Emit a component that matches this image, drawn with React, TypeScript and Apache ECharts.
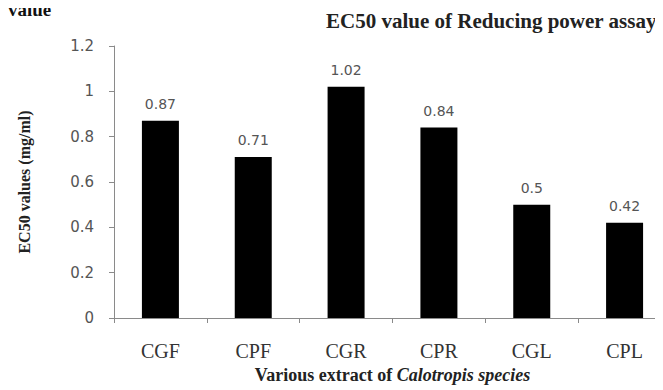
import React, { useEffect, useRef } from "react";
import * as echarts from "echarts";

const categories = ["CGF", "CPF", "CGR", "CPR", "CGL", "CPL"];
const values = [0.87, 0.71, 1.02, 0.84, 0.5, 0.42];
const yTicks = [0, 0.2, 0.4, 0.6, 0.8, 1, 1.2];

export default function App() {
  const ref = useRef<HTMLDivElement>(null);
  useEffect(() => {
    if (!ref.current) return;
    const chart = echarts.init(ref.current, null, { renderer: "svg" });
    chart.setOption({
      animation: false,
      backgroundColor: "#ffffff",
      title: {
        text: "EC50 value of Reducing power assay",
        left: 318,
        top: -2,
        padding: [4, 0, 4, 0],
        textStyle: {
          fontFamily: "Liberation Serif",
          fontWeight: "bold",
          fontSize: 21,
          color: "#222",
        },
      },
      graphic: [
        {
          type: "text",
          left: 0,
          top: -8,
          style: {
            text: "value",
            fontFamily: "Liberation Serif",
            fontWeight: "bold",
            fontSize: 19,
            fill: "#111",
          },
        },
      ],
      grid: { left: 102, right: -4, top: 38, bottom: 80 },
      xAxis: {
        type: "category",
        data: categories,
        name: "Various extract of {i|Calotropis species}",
        nameLocation: "middle",
        nameGap: 48,
        nameTextStyle: {
          fontFamily: "Liberation Serif",
          fontWeight: "bold",
          fontSize: 18,
          color: "#222",
          rich: {
            i: {
              fontFamily: "Liberation Serif",
              fontWeight: "bold",
              fontStyle: "italic",
              fontSize: 18,
              color: "#222",
            },
          },
        },
        axisLine: { lineStyle: { color: "#8a8a8a", width: 1 } },
        axisTick: { show: true, length: 5, lineStyle: { color: "#8a8a8a" } },
        axisLabel: {
          margin: 23,
          fontFamily: "Liberation Serif",
          fontSize: 20,
          color: "#333",
        },
      },
      yAxis: {
        type: "value",
        min: 0,
        max: 1.2,
        interval: 0.2,
        name: "EC50 values (mg/ml)",
        nameLocation: "middle",
        nameGap: 82,
        nameTextStyle: {
          fontFamily: "Liberation Serif",
          fontWeight: "bold",
          fontSize: 16,
          color: "#222",
        },
        axisLine: { show: true, lineStyle: { color: "#8a8a8a", width: 1 } },
        axisTick: { show: true, length: 5, lineStyle: { color: "#8a8a8a" } },
        splitLine: { show: false },
        axisLabel: {
          margin: 20,
          fontFamily: "DejaVu Sans",
          fontSize: 15,
          color: "#555",
          formatter: (v: number) => {
            const t = yTicks.find((x) => Math.abs(x - v) < 1e-9);
            return String(t !== undefined ? t : v);
          },
        },
      },
      series: [
        {
          type: "bar",
          data: values,
          barWidth: 37,
          itemStyle: { color: "#000000" },
          label: {
            show: true,
            position: "top",
            distance: 10,
            fontFamily: "DejaVu Sans",
            fontSize: 14,
            color: "#555",
          },
        },
      ],
    });
    return () => chart.dispose();
  }, []);
  return <div ref={ref} style={{ width: 663, height: 390 }} />;
}
